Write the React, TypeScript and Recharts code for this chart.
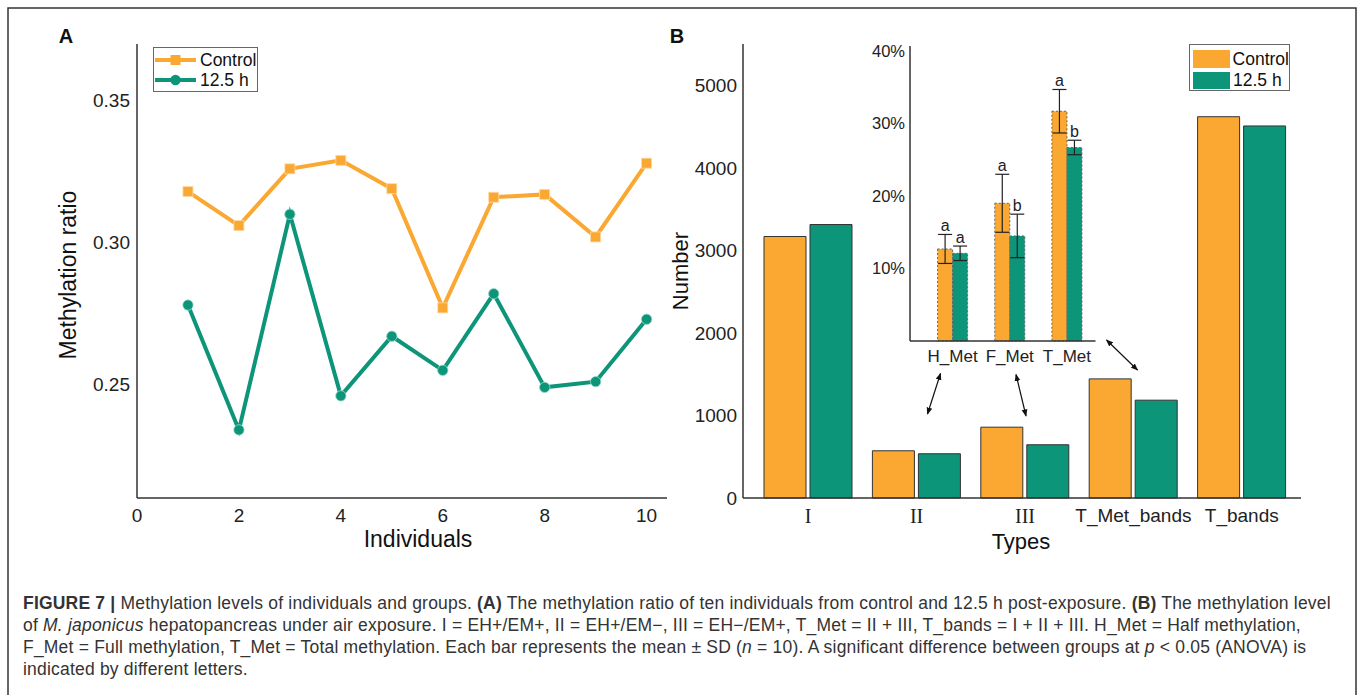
import React from 'react';
import { LineChart, Line, XAxis, YAxis, Legend, BarChart, Bar, ErrorBar, LabelList } from 'recharts';

// ---------- Panel A data ----------
const individuals = [1, 2, 3, 4, 5, 6, 7, 8, 9, 10];
const controlRatio = [0.318, 0.306, 0.326, 0.329, 0.319, 0.277, 0.316, 0.317, 0.302, 0.328];
const exposedRatio = [0.278, 0.234, 0.31, 0.246, 0.267, 0.255, 0.282, 0.249, 0.251, 0.273];
const ratioTicks = [0.25, 0.3, 0.35];
const individualTicks = [0, 2, 4, 6, 8, 10];

// ---------- Panel B data ----------
const types = ['I', 'II', 'III', 'T_Met_bands', 'T_bands'];
const controlCounts = [3168, 572, 858, 1443, 4619];
const exposedCounts = [3313, 536, 645, 1185, 4507];
const countTicks = [0, 1000, 2000, 3000, 4000, 5000];

// ---------- Inset data ----------
const metTypes = ['H_Met', 'F_Met', 'T_Met'];
const controlMet = [0.127, 0.19, 0.317];
const controlMetSD = [0.02, 0.04, 0.03];
const exposedMet = [0.121, 0.145, 0.267];
const exposedMetSD = [0.01, 0.03, 0.01];
const controlLetters = ['a', 'a', 'a'];
const exposedLetters = ['a', 'b', 'b'];
const metTicks = [0.1, 0.2, 0.3, 0.4];

const seriesNames = ['Control', '12.5 h'];

const ORANGE = '#FAA831';
const GREEN = '#0D957A';
const AXIS = '#333';
const SANS = '"Liberation Sans", Arial, Helvetica, sans-serif';
const SERIF = '"Liberation Serif", "Times New Roman", serif';

const lineData = individuals.map((x, i) => ({ x, control: controlRatio[i], exposed: exposedRatio[i] }));
const typeData = types.map((t, i) => ({ type: t, control: controlCounts[i], exposed: exposedCounts[i] }));
const metData = metTypes.map((t, i) => ({
  type: t,
  control: controlMet[i],
  controlSD: controlMetSD[i],
  exposed: exposedMet[i],
  exposedSD: exposedMetSD[i],
}));

const SquareDot = (props: any) => {
  const { cx, cy, index } = props;
  if (cx == null || cy == null) return <g key={`sq-${index}`} />;
  return <rect key={`sq-${index}`} x={cx - 5} y={cy - 5} width={10} height={10} fill={ORANGE} stroke="#FCD9A6" strokeWidth={0.8} />;
};
const CircleDot = (props: any) => {
  const { cx, cy, index } = props;
  if (cx == null || cy == null) return <g key={`ci-${index}`} />;
  return <circle key={`ci-${index}`} cx={cx} cy={cy} r={5.2} fill={GREEN} stroke="#9ED8C6" strokeWidth={0.8} />;
};

const LineLegend = () => (
  <div
    style={{
      border: '1px solid #666',
      background: '#fff',
      width: 105,
      height: 45,
      boxSizing: 'border-box',
      paddingTop: 2,
      fontFamily: SANS,
      fontSize: 17.5,
      color: '#111',
    }}
  >
    {[ORANGE, GREEN].map((c, i) => (
      <div key={i} style={{ display: 'flex', alignItems: 'center', height: 20 }}>
        <svg width={46} height={20} style={{ display: 'block' }}>
          <line x1={1} y1={10} x2={42} y2={10} stroke={c} strokeWidth={4} />
          {i === 0 ? (
            <rect x={16.5} y={5} width={10} height={10} fill={c} />
          ) : (
            <circle cx={21.5} cy={10} r={5.2} fill={c} />
          )}
        </svg>
        <span style={{ lineHeight: '20px' }}>{seriesNames[i]}</span>
      </div>
    ))}
  </div>
);

const BarLegend = () => (
  <div
    style={{
      border: '1px solid #666',
      background: '#fff',
      width: 101,
      height: 47,
      boxSizing: 'border-box',
      padding: '3px 0 0 3px',
      fontFamily: SANS,
      fontSize: 17.5,
      color: '#111',
    }}
  >
    {[ORANGE, GREEN].map((c, i) => (
      <div key={i} style={{ display: 'flex', alignItems: 'center', height: 21.5 }}>
        <div style={{ width: 37, height: 17.5, background: c, marginRight: 3 }} />
        <span style={{ lineHeight: '20px' }}>{seriesNames[i]}</span>
      </div>
    ))}
  </div>
);

const TypeTick = (props: any) => {
  const { x, y, payload } = props;
  const roman = ['I', 'II', 'III'].includes(payload.value);
  return (
    <text
      x={x}
      y={y}
      dy="0.71em"
      textAnchor="middle"
      fill="#222"
      fontFamily={roman ? SERIF : SANS}
      fontSize={roman ? 20 : 19}
    >
      {payload.value}
    </text>
  );
};

const makeLetter = (letters: string[], means: number[], sds: number[]) => (props: any) => {
  const vb = props.viewBox && props.viewBox.width !== undefined ? props.viewBox : props;
  const index = props.index;
  if (index == null || !vb) return null;
  const h = Math.abs(vb.height);
  const top = Math.min(vb.y, vb.y + vb.height);
  const pxPerUnit = h / means[index];
  const errTop = top - sds[index] * pxPerUnit;
  return (
    <text x={vb.x + vb.width / 2} y={errTop - 3} textAnchor="middle" fontSize={16} fontFamily={SANS} fill="#222">
      {letters[index]}
    </text>
  );
};

const arrows = [
  [940.5, 373.5, 927.5, 414],
  [1016, 374.5, 1026, 416],
  [1106.5, 340, 1137.5, 370],
];

export default function App() {
  const tickStyle = { fill: '#222', fontSize: 19, fontFamily: SANS };
  return (
    <div style={{ position: 'absolute', left: 0, top: 0, width: 1358, height: 695, background: '#fff', fontFamily: SANS }}>
      {/* Panel A */}
      <div style={{ position: 'absolute', left: 0, top: 0 }}>
        <LineChart width={700} height={560} data={lineData} margin={{ top: 44, right: 33, bottom: 32, left: 87 }}>
          <XAxis
            type="number"
            dataKey="x"
            domain={[0, 10.4]}
            ticks={individualTicks}
            tickLine={false}
            tickSize={0}
            tickMargin={11}
            height={30}
            axisLine={{ stroke: AXIS, strokeWidth: 1.5 }}
            tick={tickStyle}
          />
          <YAxis
            type="number"
            domain={[0.21, 0.37]}
            ticks={ratioTicks}
            tickFormatter={(v: number) => v.toFixed(2)}
            width={50}
            tickLine={false}
            tickSize={0}
            tickMargin={7}
            axisLine={{ stroke: AXIS, strokeWidth: 1.5 }}
            tick={tickStyle}
          />
          <Line
            dataKey="control"
            name={seriesNames[0]}
            stroke={ORANGE}
            strokeWidth={4}
            dot={SquareDot}
            activeDot={false}
            isAnimationActive={false}
          />
          <Line
            dataKey="exposed"
            name={seriesNames[1]}
            stroke={GREEN}
            strokeWidth={4}
            dot={CircleDot}
            activeDot={false}
            isAnimationActive={false}
          />
          <Legend
            layout="vertical"
            align="center"
            verticalAlign="middle"
            content={<LineLegend />}
            wrapperStyle={{ left: 153, top: 47, width: 105, height: 45 }}
          />
        </LineChart>
      </div>

      {/* Panel B main */}
      <div style={{ position: 'absolute', left: 680, top: 0 }}>
        <BarChart
          width={640}
          height={560}
          data={typeData}
          margin={{ top: 44, right: 19, bottom: 32, left: 13 }}
          barCategoryGap={10}
          barGap={4}
        >
          <XAxis
            dataKey="type"
            padding={{ left: 11, right: 5 }}
            interval={0}
            tickLine={false}
            tickSize={0}
            tickMargin={11}
            height={30}
            axisLine={{ stroke: AXIS, strokeWidth: 1.5 }}
            tick={<TypeTick />}
          />
          <YAxis
            domain={[0, 5500]}
            ticks={countTicks}
            width={50}
            tickLine={false}
            tickSize={0}
            tickMargin={6}
            axisLine={{ stroke: AXIS, strokeWidth: 1.5 }}
            tick={tickStyle}
          />
          <Bar dataKey="control" name={seriesNames[0]} fill={ORANGE} stroke="#333" strokeWidth={1} isAnimationActive={false} />
          <Bar dataKey="exposed" name={seriesNames[1]} fill={GREEN} stroke="#333" strokeWidth={1} isAnimationActive={false} />
          <Legend
            layout="vertical"
            align="center"
            verticalAlign="middle"
            content={<BarLegend />}
            wrapperStyle={{ left: 509, top: 44, width: 101, height: 47 }}
          />
        </BarChart>
      </div>

      {/* Inset */}
      <div style={{ position: 'absolute', left: 860, top: 0 }}>
        <BarChart
          width={260}
          height={400}
          data={metData}
          margin={{ top: 46, right: 24.5, bottom: 29, left: 5 }}
          barCategoryGap={13.6}
          barGap={0}
        >
          <XAxis
            dataKey="type"
            padding={{ left: 14, right: 0 }}
            interval={0}
            tickLine={false}
            tickSize={0}
            tickMargin={9}
            height={30}
            axisLine={{ stroke: AXIS, strokeWidth: 1.5 }}
            tick={{ fill: '#222', fontSize: 17, fontFamily: SANS }}
          />
          <YAxis
            domain={[0, 0.407]}
            ticks={metTicks}
            tickFormatter={(v: number) => `${Math.round(v * 100)}%`}
            width={45}
            tickLine={false}
            tickSize={0}
            tickMargin={5}
            axisLine={{ stroke: AXIS, strokeWidth: 1.5 }}
            tick={{ fill: '#222', fontSize: 16.5, fontFamily: SANS }}
          />
          <Bar dataKey="control" fill={ORANGE} stroke="#666" strokeWidth={1} strokeDasharray="2 2" isAnimationActive={false}>
            <ErrorBar dataKey="controlSD" width={7} stroke="#222" strokeWidth={1.2} direction="y" />
            <LabelList dataKey="control" content={makeLetter(controlLetters, controlMet, controlMetSD)} />
          </Bar>
          <Bar dataKey="exposed" fill={GREEN} stroke="#666" strokeWidth={1} strokeDasharray="2 2" isAnimationActive={false}>
            <ErrorBar dataKey="exposedSD" width={7} stroke="#222" strokeWidth={1.2} direction="y" />
            <LabelList dataKey="exposed" content={makeLetter(exposedLetters, exposedMet, exposedMetSD)} />
          </Bar>
        </BarChart>
      </div>

      {/* Decorations: frame, panel letters, axis titles, arrows */}
      <svg width={1358} height={695} style={{ position: 'absolute', left: 0, top: 0, pointerEvents: 'none' }}>
        <defs>
          <marker id="ah" viewBox="0 0 10 10" refX="9" refY="5" markerWidth="6" markerHeight="6" orient="auto-start-reverse">
            <path d="M0,1 L10,5 L0,9 z" fill="#111" />
          </marker>
        </defs>
        <rect x={8} y={8} width={1348} height={720} fill="none" stroke="#333" strokeWidth={1.5} />
        <text x={66} y={36} textAnchor="middle" dominantBaseline="central" fontWeight="bold" fontSize={20} fontFamily={SANS} fill="#111">A</text>
        <text x={677} y={36} textAnchor="middle" dominantBaseline="central" fontWeight="bold" fontSize={20} fontFamily={SANS} fill="#111">B</text>
        <text x={418} y={539} textAnchor="middle" dominantBaseline="central" fontSize={23} fontFamily={SANS} fill="#111">Individuals</text>
        <text x={1021} y={541} textAnchor="middle" dominantBaseline="central" fontSize={22} fontFamily={SANS} fill="#111">Types</text>
        <text x={68} y={275} transform="rotate(-90 68 275)" textAnchor="middle" dominantBaseline="central" fontSize={23} fontFamily={SANS} fill="#111">Methylation ratio</text>
        <text x={680} y={271} transform="rotate(-90 680 271)" textAnchor="middle" dominantBaseline="central" fontSize={22} fontFamily={SANS} fill="#111">Number</text>
        {arrows.map((a, i) => (
          <line key={i} x1={a[0]} y1={a[1]} x2={a[2]} y2={a[3]} stroke="#111" strokeWidth={1.2} markerStart="url(#ah)" markerEnd="url(#ah)" />
        ))}
      </svg>

      {/* Caption */}
      <div
        style={{
          position: 'absolute',
          left: 23,
          top: 592,
          fontSize: 17.5,
          letterSpacing: '0.2px',
          lineHeight: '22px',
          color: '#333',
          fontFamily: SANS,
          whiteSpace: 'nowrap',
        }}
      >
        <div>
          <b>FIGURE 7 |</b> Methylation levels of individuals and groups. <b>(A)</b> The methylation ratio of ten individuals from control and 12.5 h post-exposure. <b>(B)</b> The methylation level
        </div>
        <div>
          of <i>M. japonicus</i> hepatopancreas under air exposure. I = EH+/EM+, II = EH+/EM−, III = EH−/EM+, T_Met = II + III, T_bands = I + II + III. H_Met = Half methylation,
        </div>
        <div>
          F_Met = Full methylation, T_Met = Total methylation. Each bar represents the mean ± SD (<i>n</i> = 10). A significant difference between groups at <i>p</i> &lt; 0.05 (ANOVA) is
        </div>
        <div>indicated by different letters.</div>
      </div>
    </div>
  );
}
